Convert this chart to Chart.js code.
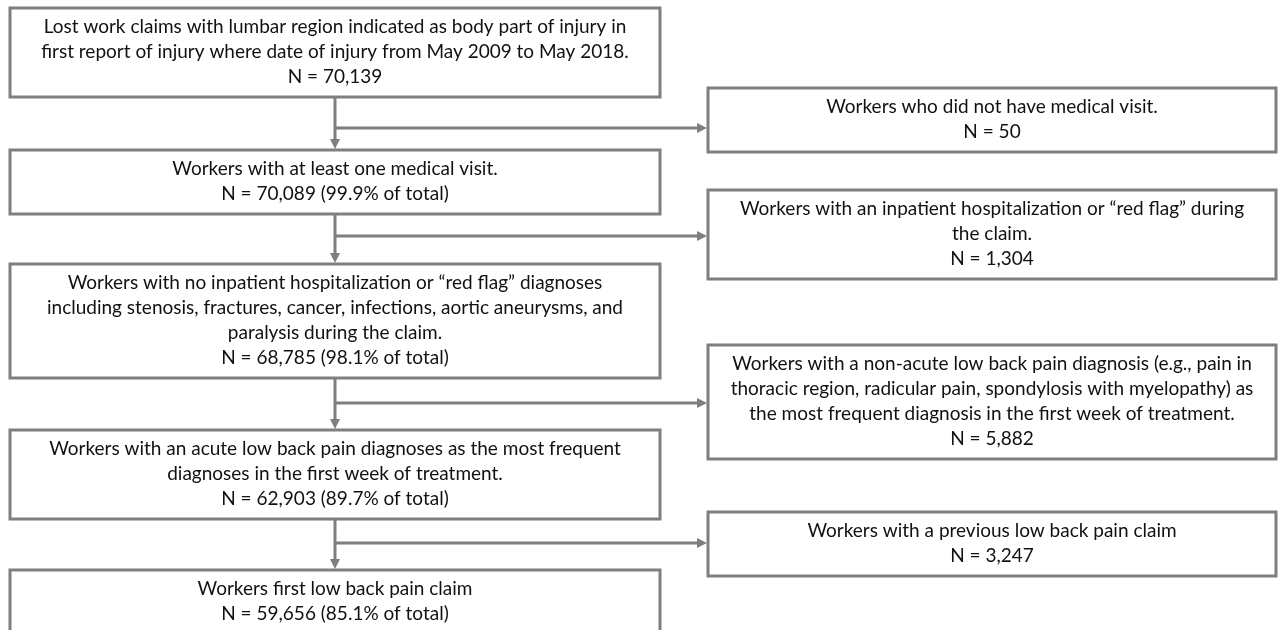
<!DOCTYPE html>
<html>
<head>
<meta charset="utf-8">
<script src="https://cdn.jsdelivr.net/npm/chart.js@4.4.1/dist/chart.umd.min.js"></script>
<style>
  html, body { margin: 0; padding: 0; background: #fff; }
</style>
</head>
<body>
<canvas id="flow" width="1280" height="630"></canvas>
<script>
    // Main flow (left column) - text lines, counts and share of total
    const mainText = [
        ['Lost work claims with lumbar region indicated as body part of injury in',
         'first report of injury where date of injury from May 2009 to May 2018.'],
        ['Workers with at least one medical visit.'],
        ['Workers with no inpatient hospitalization or \u201cred flag\u201d diagnoses',
         'including stenosis, fractures, cancer, infections, aortic aneurysms, and',
         'paralysis during the claim.'],
        ['Workers with an acute low back pain diagnoses as the most frequent',
         'diagnoses in the first week of treatment.'],
        ['Workers first low back pain claim']
    ];
    const mainCounts = [70139, 70089, 68785, 62903, 59656];
    const mainPct = [null, 99.9, 98.1, 89.7, 85.1];

    // Excluded workers (right column)
    const exclText = [
        ['Workers who did not have medical visit.'],
        ['Workers with an inpatient hospitalization or \u201cred flag\u201d during',
         'the claim.'],
        ['Workers with a non-acute low back pain diagnosis (e.g., pain in',
         'thoracic region, radicular pain, spondylosis with myelopathy) as',
         'the most frequent diagnosis in the first week of treatment.'],
        ['Workers with a previous low back pain claim']
    ];
    const exclCounts = [50, 1304, 5882, 3247];

    // Layout, in units of the hidden 1280 x 630 axes
    const mainCol = [10, 660];
    const exclCol = [708, 1276];
    const mainTop = [8, 150, 264, 430, 570];
    const exclTop = [88, 190, 345, 512];
    const branchY = [128, 236, 403, 543];
    const lineH = 25;
    const boxPad = 7;

    const GREY = '#7f7f7f';
    const TEXT = '#111111';
    const FONT = '19px Lato, "Open Sans", sans-serif';

    function countLine(n, pct) {
        let s = 'N = ' + n.toLocaleString('en-US');
        if (pct !== null && pct !== undefined) s += ' (' + pct.toFixed(1) + '% of total)';
        return s;
    }

    function boxHeight(lines) {
        return lines.length * lineH + boxPad * 2;
    }

    // Function to draw one box with centred lines of text
    function drawBox(ctx, x, y, col, top, lines) {
        const left = x.getPixelForValue(col[0]);
        const right = x.getPixelForValue(col[1]);
        const t = y.getPixelForValue(top);
        const b = y.getPixelForValue(top + boxHeight(lines));
        ctx.fillStyle = '#fff';
        ctx.fillRect(left, t, right - left, b - t);
        ctx.strokeStyle = GREY;
        ctx.lineWidth = 3;
        ctx.strokeRect(left, t, right - left, b - t);

        ctx.fillStyle = TEXT;
        ctx.font = FONT;
        ctx.textAlign = 'center';
        ctx.textBaseline = 'middle';
        const cx = (left + right) / 2;
        lines.forEach((line, i) => {
            const ly = y.getPixelForValue(top + boxPad + lineH * (i + 0.5)) - 1;
            ctx.fillText(line, cx, ly);
        });
        return b;
    }

    function arrowHead(ctx, px, py, dir) {
        const len = 10, half = 5;
        ctx.beginPath();
        if (dir === 'down') {
            ctx.moveTo(px, py);
            ctx.lineTo(px - half, py - len);
            ctx.lineTo(px + half, py - len);
        } else {
            ctx.moveTo(px, py);
            ctx.lineTo(px - len, py - half);
            ctx.lineTo(px - len, py + half);
        }
        ctx.closePath();
        ctx.fillStyle = GREY;
        ctx.fill();
    }

    const flowPlugin = {
        id: 'flowBoxes',
        afterDatasetsDraw(chart) {
            const { ctx, scales: { x, y } } = chart;
            ctx.save();
            const spineX = x.getPixelForValue((mainCol[0] + mainCol[1]) / 2);

            // connectors first, boxes on top
            ctx.strokeStyle = GREY;
            ctx.lineWidth = 3;
            for (let i = 0; i < mainTop.length - 1; i++) {
                const fromY = y.getPixelForValue(mainTop[i] + boxHeight(mainText[i].concat(['N'])));
                const toY = y.getPixelForValue(mainTop[i + 1]);
                ctx.beginPath();
                ctx.moveTo(spineX, fromY);
                ctx.lineTo(spineX, toY - 8);
                ctx.stroke();
                arrowHead(ctx, spineX, toY - 1, 'down');

                const by = y.getPixelForValue(branchY[i]);
                const endX = x.getPixelForValue(exclCol[0]);
                ctx.beginPath();
                ctx.moveTo(spineX, by);
                ctx.lineTo(endX - 8, by);
                ctx.stroke();
                arrowHead(ctx, endX - 1, by, 'right');
            }

            mainText.forEach((lines, i) => {
                drawBox(ctx, x, y, mainCol, mainTop[i], lines.concat([countLine(mainCounts[i], mainPct[i])]));
            });
            exclText.forEach((lines, i) => {
                drawBox(ctx, x, y, exclCol, exclTop[i], lines.concat([countLine(exclCounts[i], null)]));
            });
            ctx.restore();
        }
    };

    new Chart(document.getElementById('flow'), {
        type: 'scatter',
        data: { datasets: [{ data: [], pointRadius: 0 }] },
        options: {
            responsive: false,
            animation: false,
            layout: { padding: 0 },
            plugins: { legend: { display: false }, tooltip: { enabled: false } },
            scales: {
                x: { type: 'linear', min: 0, max: 1280, display: false },
                y: { type: 'linear', min: 0, max: 630, reverse: true, display: false }
            }
        },
        plugins: [flowPlugin]
    });
</script>
</body>
</html>
